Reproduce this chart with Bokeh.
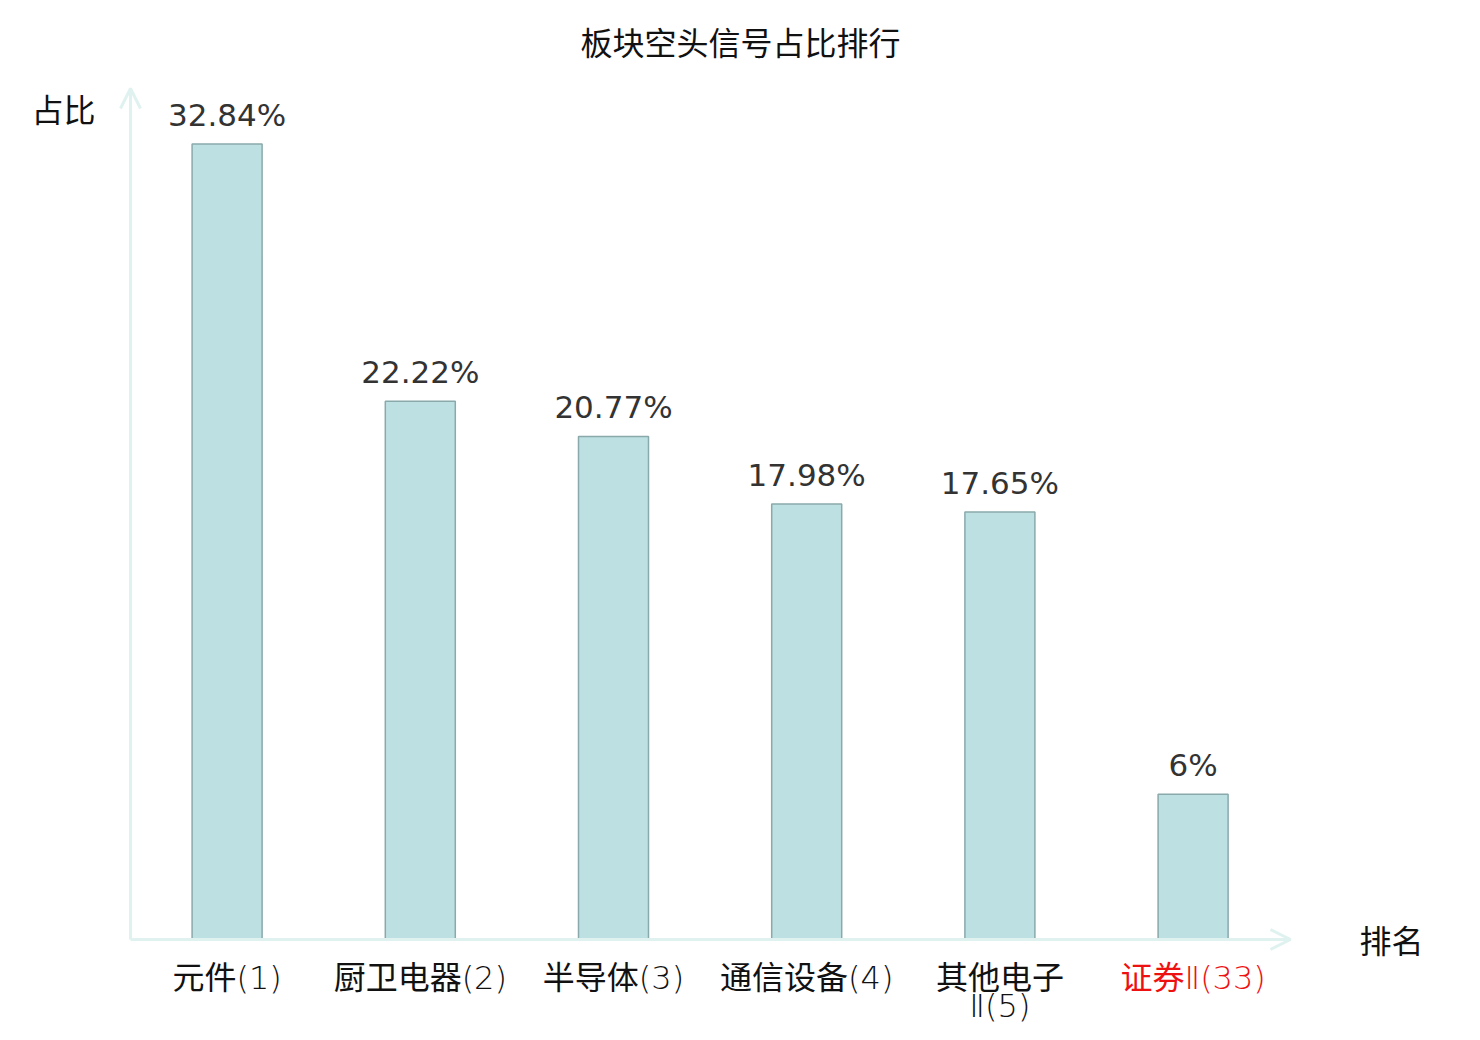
from bokeh.plotting import figure
from bokeh.models import Range1d, Arrow, OpenHead, ColumnDataSource
from bokeh.core.properties import value
from bokeh.embed import file_html
from bokeh.resources import INLINE

# ---- data ----
categories = ["元件(1)", "厨卫电器(2)", "半导体(3)", "通信设备(4)", "其他电子\nⅡ(5)", "证券Ⅱ(33)"]
shares = [32.84, 22.22, 20.77, 17.98, 17.65, 6]
category_colors = ["#111111", "#111111", "#111111", "#111111", "#111111", "#ee1111"]
title_text = "板块空头信号占比排行"
y_name = "占比"
x_name = "排名"

# ---- layout helpers (picture pixel -> data) ----
W, H = 1464, 1024
ORIGIN = 0
X0_PX, X_STEP = 130.0, 193.2      # axis origin and category pitch
Y0_PX, Y_STEP = 939.0, 24.22      # baseline and px per percent


def px2x(px):
    return (px - X0_PX) / X_STEP


def py2y(py):
    return (Y0_PX - py) / Y_STEP


p = figure(width=W, height=H, output_backend="svg", toolbar_location=None,
           x_range=Range1d(px2x(ORIGIN), px2x(ORIGIN + W)),
           y_range=Range1d(py2y(ORIGIN + H), py2y(ORIGIN)),
           min_border=0, outline_line_color=None)
p.axis.visible = False
p.grid.visible = False
p.background_fill_color = "white"

AX = "#dff2ef"
CJK = value("Noto Sans CJK SC")
LABEL_FONT = value("DejaVu Sans ExtraLight, DejaVu Sans Light, Noto Sans CJK SC")

centers = [i + 0.5 for i in range(len(categories))]
split = [c.split("\n") for c in categories]
src = ColumnDataSource(dict(
    x=centers, top=shares,
    lab=[f"{v:g}%" for v in shares],
    line1=[s[0] for s in split],
    line2=[s[1] if len(s) > 1 else "" for s in split],
    cc=category_colors,
))

# axes with arrows
p.add_layout(Arrow(end=OpenHead(size=20, line_color=AX, line_width=3),
                   x_start=0, y_start=0, x_end=px2x(1290), y_end=0,
                   line_color=AX, line_width=3))
p.add_layout(Arrow(end=OpenHead(size=20, line_color=AX, line_width=3),
                   x_start=0, y_start=0, x_end=0, y_end=py2y(88),
                   line_color=AX, line_width=3))

p.vbar(x="x", top="top", bottom=0, width=70 / X_STEP, source=src,
       fill_color="#bde0e3", line_color="#8aa9ab", line_width=1.5)

p.text(x="x", y="top", text="lab", source=src, y_offset=-29,
       text_align="center", text_baseline="alphabetic",
       text_font=value("DejaVu Sans"), text_font_size="31px", text_color="#333333")

p.text(x="x", y=py2y(977), text="line1", source=src,
       text_align="center", text_baseline="middle",
       text_font=LABEL_FONT, text_font_size="32px", text_color="cc")
p.text(x="x", y=py2y(1005), text="line2", source=src,
       text_align="center", text_baseline="middle",
       text_font=LABEL_FONT, text_font_size="32px", text_color="cc")

p.text(x=[px2x(740)], y=[py2y(40)], text=[title_text], text_align="center",
       text_baseline="middle", text_font=CJK, text_font_size="32px", text_color="#111111")
p.text(x=[px2x(63)], y=[py2y(107)], text=[y_name], text_align="center",
       text_baseline="middle", text_font=CJK, text_font_size="32px", text_color="#111111")
p.text(x=[px2x(1391)], y=[py2y(938)], text=[x_name], text_align="center",
       text_baseline="middle", text_font=CJK, text_font_size="32px", text_color="#111111")

open("out.html", "w").write(file_html(p, INLINE))
